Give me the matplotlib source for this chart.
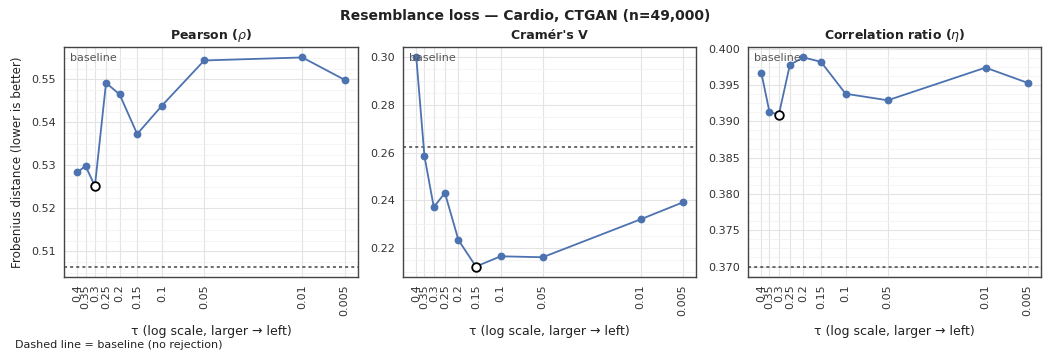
import matplotlib
matplotlib.use("Agg")
import matplotlib.pyplot as plt
from matplotlib.ticker import AutoMinorLocator, NullLocator
import numpy as np

# tau values (x) and resemblance loss per metric
taus = [0.4, 0.35, 0.3, 0.25, 0.2, 0.15, 0.1, 0.05, 0.01, 0.005]
tau_labels = ["0.4", "0.35", "0.3", "0.25", "0.2", "0.15", "0.1", "0.05", "0.01", "0.005"]

pearson = [0.5284, 0.5299, 0.5252, 0.5492, 0.5465, 0.5373, 0.5439, 0.5544, 0.5551, 0.5499]
cramers = [0.2999, 0.2585, 0.2371, 0.2431, 0.2233, 0.2122, 0.2165, 0.2161, 0.2320, 0.2391]
corr_ratio = [0.3967, 0.3913, 0.3909, 0.3978, 0.3988, 0.3982, 0.3938, 0.3929, 0.3974, 0.3953]

baselines = [0.5065, 0.2622, 0.3700]
titles = [r"Pearson ($\rho$)", "Cramér's V", r"Correlation ratio ($\eta$)"]
series = [pearson, cramers, corr_ratio]

blue = "#4C72B0"
W, H = 1051, 361
fig = plt.figure(figsize=(W / 100, H / 100), dpi=100)

# axes boxes in pixels: left, right
boxes = [(64, 358), (403, 696), (748, 1041)]
top, bottom = 47, 277

for i, (vals, base, title) in enumerate(zip(series, baselines, titles)):
    l, r = boxes[i]
    ax = fig.add_axes([l / W, 1 - bottom / H, (r - l) / W, (bottom - top) / H])
    ax.plot(taus, vals, "-o", color=blue, lw=1.3, ms=4.6, zorder=3)
    best = int(np.argmin(vals))
    ax.plot(taus[best], vals[best], "o", mfc="white", mec="black", mew=1.3, ms=6.2, zorder=4)
    ax.axhline(base, color="#444444", ls=(0, (2, 2)), lw=1.1, zorder=2)
    ax.set_xscale("log")
    ax.set_xticks(taus)
    ax.set_xticklabels(tau_labels, rotation=90, fontsize=8, color="#333333")
    ax.xaxis.set_minor_locator(NullLocator())
    ax.invert_xaxis()
    ax.yaxis.set_minor_locator(AutoMinorLocator(4))
    ax.tick_params(axis="y", labelsize=8, colors="#333333", length=0, pad=6)
    ax.tick_params(axis="x", length=0, pad=5)
    ax.tick_params(which="minor", length=0)
    ax.grid(True, which="major", color="#e3e3e3", lw=0.8, zorder=0)
    ax.grid(True, which="minor", axis="y", color="#f2f2f2", lw=0.6, zorder=0)
    ax.set_axisbelow(True)
    for s in ax.spines.values():
        s.set_color("#444444")
        s.set_linewidth(1.0)
    ax.set_title(title, fontsize=9, fontweight="bold", color="#222222", pad=6)
    ax.set_xlabel("τ (log scale, larger → left)", fontsize=9, color="#222222", labelpad=7)
    ax.text(0.02, 0.975, "baseline", transform=ax.transAxes, ha="left", va="top",
            fontsize=8, color="#555555")
    if i == 0:
        ax.set_ylabel("Frobenius distance (lower is better)", fontsize=8.6, color="#222222",
                      labelpad=5)

fig.suptitle("Resemblance loss — Cardio, CTGAN (n=49,000)", fontsize=10, fontweight="bold",
             color="#222222", y=1 - 16 / H, va="center")
fig.text(15 / W, 1 - 345 / H, "Dashed line = baseline (no rejection)", fontsize=8,
         color="#222222", va="center")

fig.savefig("out.png", dpi=100)
